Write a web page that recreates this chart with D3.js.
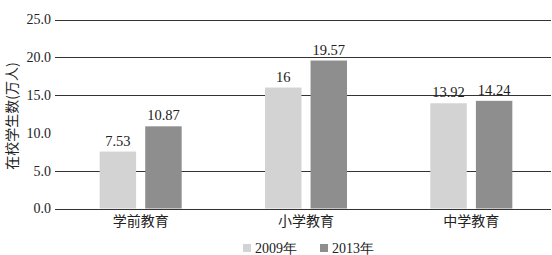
<!DOCTYPE html>
<html><head><meta charset="utf-8">
<script src="https://cdn.jsdelivr.net/npm/d3@7"></script>
<style>body{margin:0;background:#fff}</style>
</head><body>
<svg id="c" width="552" height="255"></svg>
<script>
const categories = ["学前教育", "小学教育", "中学教育"];
const seriesNames = ["2009年", "2013年"];
const values2009 = [7.53, 16, 13.92];
const values2013 = [10.87, 19.57, 14.24];
const valueLabels2009 = ["7.53", "16", "13.92"];
const valueLabels2013 = ["10.87", "19.57", "14.24"];
const yTicks = [0, 5, 10, 15, 20, 25];
const yTitle = "在校学生数(万人)";

const svg = d3.select("#c");
const colors = ["#d3d3d3", "#8e8e8e"];
const serif = "'Liberation Serif','DejaVu Serif',serif";
const cjk = "'Noto Sans CJK SC','Noto Sans CJK JP',sans-serif";

const y = d3.scaleLinear().domain([0, 25]).range([208.5, 19.5]);
const x0 = d3.scaleBand().domain(categories).range([58, 554]);
const x1 = d3.scaleBand().domain(seriesNames).range([x0.bandwidth()/2 - 41, x0.bandwidth()/2 + 41]).paddingInner(0.2);

// gridlines (10.0 line absent in reference)
svg.append("g").selectAll("line").data(yTicks.filter(t => t !== 10)).join("line")
  .attr("x1", 55).attr("x2", 551)
  .attr("y1", d => Math.round(y(d)) + 0.5).attr("y2", d => Math.round(y(d)) + 0.5)
  .attr("stroke", "#333").attr("stroke-width", 1);

// y tick labels
const yAxis = d3.axisLeft(y).tickValues(yTicks).tickFormat(d3.format(".1f")).tickSize(0).tickPadding(0);
const ga = svg.append("g").attr("transform", "translate(51,0)").call(yAxis);
ga.select(".domain").remove();
ga.selectAll("text").attr("font-family", serif).attr("font-size", 14).attr("fill", "#222");

// bars
const data = categories.map((c, i) => ({c, vals: [values2009[i], values2013[i]], labs: [valueLabels2009[i], valueLabels2013[i]]}));
const g = svg.append("g").selectAll("g").data(data).join("g")
  .attr("transform", d => `translate(${x0(d.c)},0)`);
g.selectAll("rect").data(d => d.vals.map((v, j) => ({s: seriesNames[j], v, j}))).join("rect")
  .attr("x", d => x1(d.s)).attr("width", x1.bandwidth())
  .attr("y", d => y(d.v)).attr("height", d => y(0) - y(d.v))
  .attr("fill", d => colors[d.j]);
g.selectAll("text").data(d => d.vals.map((v, j) => ({s: seriesNames[j], v, l: d.labs[j]}))).join("text")
  .attr("x", d => x1(d.s) + x1.bandwidth()/2).attr("y", d => y(d.v) - 6)
  .attr("text-anchor", "middle").attr("font-family", serif).attr("font-size", 14.5).attr("fill", "#222")
  .text(d => d.l);

// category labels
svg.append("g").selectAll("text").data(categories).join("text")
  .attr("x", d => x0(d) + x0.bandwidth()/2).attr("y", 226)
  .attr("text-anchor", "middle").attr("font-family", cjk).attr("font-size", 14).attr("fill", "#222")
  .text(d => d);

// y title
svg.append("text").attr("transform", "translate(17,116) rotate(-90)")
  .attr("text-anchor", "middle").attr("font-family", cjk).attr("font-size", 14).attr("fill", "#222")
  .text(yTitle);

// legend
const legX = [243, 320];
const lg = svg.append("g").selectAll("g").data(seriesNames).join("g")
  .attr("transform", (d, i) => `translate(${legX[i]},244)`);
lg.append("rect").attr("width", 8).attr("height", 8).attr("fill", (d, i) => colors[i]);
lg.append("text").attr("x", 12).attr("y", 8.5).attr("font-family", serif).attr("font-size", 14).attr("fill", "#222")
  .text(d => d);
</script>
</body></html>
